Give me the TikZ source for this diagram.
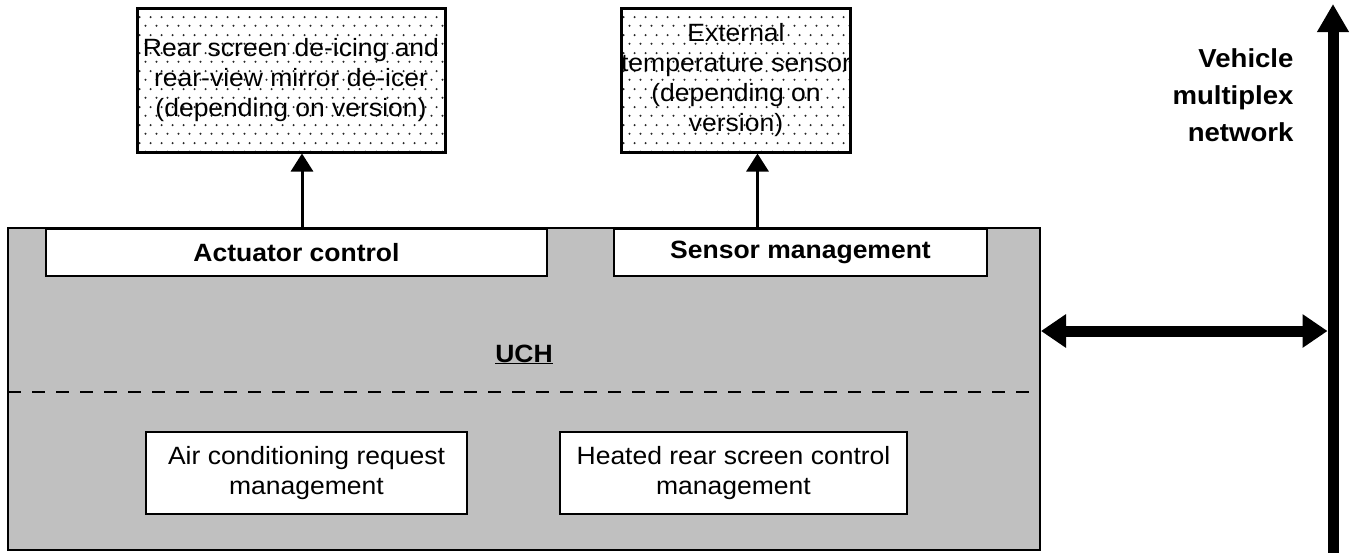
\documentclass[tikz,border=0pt]{standalone}
\usepackage{fontspec}
\setmainfont{Liberation Sans}[FakeStretch=1.06]
\usetikzlibrary{arrows.meta,patterns.meta,positioning}

\definecolor{uchgray}{HTML}{C0C0C0}

% dotted fill of the peripheral boxes
\tikzdeclarepattern{
  name=sparsedots,
  type=uncolored,
  bottom left={(0pt,0pt)},
  top right={(11pt,18pt)},
  tile size={(11pt,18pt)},
  code={
    \fill (2.75pt,4.5pt) circle (1.2pt);
    \fill (8.25pt,13.5pt) circle (1.2pt);
  }
}

\begin{document}
\begin{tikzpicture}[x=1pt, y=-1pt,
    txt/.style={font=\fontsize{25}{30}\selectfont},
    boldtxt/.style={font=\fontsize{25}{30}\selectfont\bfseries},
    block/.style={draw, line width=2pt, fill=white, inner sep=0pt, align=center, txt},
    periph/.style={draw, line width=3pt, pattern={sparsedots}, pattern color=black!85, inner sep=0pt, align=center, txt},
    link/.style={line width=3pt, -{Triangle[width=22pt,length=18pt]}},
    bus/.style={line width=11pt, {Triangle[width=32pt,length=25pt]}-{Triangle[width=32pt,length=25pt]}}]
    \useasboundingbox (0,0) rectangle (1358,552);

    % the UCH and its functions
    \node[draw, line width=2pt, fill=uchgray, inner sep=0pt, minimum width=1032pt, minimum height=322pt] (uch) at (524,389) {};
    \node[boldtxt, anchor=base] (uchname) at (524,362) {\underline{UCH}};
    \node[block, boldtxt, minimum width=501pt, minimum height=47pt] (act) at (296.5,252.5) {Actuator control};
    \node[block, boldtxt, minimum width=373pt, minimum height=47pt] (sens) at (800.5,252.5) {Sensor management};
    \node[block, minimum width=321pt, minimum height=82pt] (acreq) at (306.5,473) {Air conditioning request\\management};
    \node[block, minimum width=347pt, minimum height=82pt] (hrs) at (733.5,473) {Heated rear screen control\\management};
    \coordinate (sepl) at (8,392);
    \draw[line width=2pt, dash pattern=on 13pt off 11pt] (sepl) -- (sepl -| uch.east);

    % peripherals
    \node[periph, minimum width=308pt, minimum height=144pt] (deicer) at (291,80) {Rear screen de-icing and\\rear-view mirror de-icer\\(depending on version)};
    \node[periph, minimum width=228pt, minimum height=144pt] (extsens) at (736,80) {External\\temperature sensor\\(depending on\\version)};

    \draw[link] ([xshift=5.5pt]act.north) -- ([xshift=5.5pt]act.north |- deicer.south);
    \draw[link] ([xshift=-43pt]sens.north) -- ([xshift=-43pt]sens.north |- extsens.south);

    % multiplex network
    \coordinate (netfoot) at (1333,553);
    \coordinate (nettop) at (1333,4);
    \coordinate (tap) at (1327.5,331);
    \draw[line width=11pt, -{Triangle[width=30pt,length=28pt]}] (netfoot) -- (nettop);
    \draw[bus] (uch.east |- tap) -- (tap);
    \node[font=\fontsize{26}{37}\selectfont\bfseries, align=right, anchor=east] (netname) at (1297,95) {Vehicle\\multiplex\\network};
\end{tikzpicture}
\end{document}
